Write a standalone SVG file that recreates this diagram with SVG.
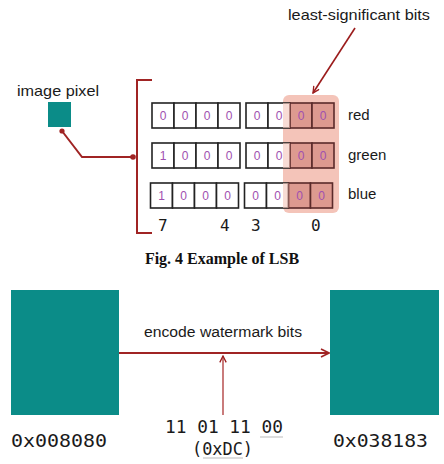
<svg xmlns="http://www.w3.org/2000/svg" width="444" height="464" viewBox="0 0 444 464">
<defs>
<style>
.lbl{font-family:"Liberation Sans","Noto Sans",Arial,sans-serif;fill:#1a1a1a}
.mono{font-family:"DejaVu Sans Mono","Liberation Mono",monospace;fill:#1a1a1a}
.cell{stroke:#222;stroke-width:1.6;fill:#fff}
.hl{stroke:#5a2a2a;stroke-width:1.6;fill:#dd9a90}
.bit{font-family:"Liberation Sans","Noto Sans",Arial,sans-serif;font-size:12px;fill:#a050b0;text-anchor:middle}
.teal{fill:#0b8c88}
.wire{stroke:#a02424;fill:none}
</style>
<marker id="ah" viewBox="0 0 10 10" refX="9" refY="5" markerWidth="8" markerHeight="8" markerUnits="userSpaceOnUse" orient="auto">
<path d="M1,1 L9,5 L1,9" fill="none" stroke="#9b1c1c" stroke-width="1.6"/>
</marker>
<marker id="ah2" viewBox="0 0 10 10" refX="9" refY="5" markerWidth="10" markerHeight="10" markerUnits="userSpaceOnUse" orient="auto">
<path d="M1,1 L9,5 L1,9" fill="none" stroke="#a02424" stroke-width="1.6"/>
</marker>
<g id="row">
<rect class="cell" x="0" y="0" width="22" height="25"/>
<rect class="cell" x="22" y="0" width="22" height="25"/>
<rect class="cell" x="44" y="0" width="22" height="25"/>
<rect class="cell" x="66" y="0" width="22" height="25"/>
<rect class="cell" x="94" y="0" width="22" height="25"/>
<rect class="cell" x="116" y="0" width="22" height="25"/>
<rect class="hl" x="138" y="0" width="22" height="25"/>
<rect class="hl" x="160" y="0" width="22" height="25"/>
</g>
</defs>
<rect width="444" height="464" fill="#fff"/>

<g id="highlight">
<rect x="283" y="95" width="56" height="118" rx="6" fill="#f4c4b9"/>
</g>

<g id="registers">
<use href="#row" x="152" y="103"/>
<use href="#row" x="152" y="143"/>
<use href="#row" x="150.5" y="183"/>
<rect x="283" y="103" width="7" height="25" fill="#f4c4b9" opacity="0.6"/>
<rect x="283" y="143" width="7" height="25" fill="#f4c4b9" opacity="0.6"/>
<rect x="283" y="183" width="5.5" height="25" fill="#f4c4b9" opacity="0.6"/>
<g>
<text class="bit" x="163" y="120">0</text><text class="bit" x="185" y="120">0</text><text class="bit" x="207" y="120">0</text><text class="bit" x="229" y="120">0</text>
<text class="bit" x="257" y="120">0</text><text class="bit" x="279" y="120">0</text><text class="bit" x="301" y="120">0</text><text class="bit" x="323" y="120">0</text>
<text class="bit" x="163" y="160">1</text><text class="bit" x="185" y="160">0</text><text class="bit" x="207" y="160">0</text><text class="bit" x="229" y="160">0</text>
<text class="bit" x="257" y="160">0</text><text class="bit" x="279" y="160">0</text><text class="bit" x="301" y="160">0</text><text class="bit" x="323" y="160">0</text>
<text class="bit" x="161.5" y="200">1</text><text class="bit" x="183.5" y="200">0</text><text class="bit" x="205.5" y="200">0</text><text class="bit" x="227.5" y="200">0</text>
<text class="bit" x="255.5" y="200">0</text><text class="bit" x="277.5" y="200">0</text><text class="bit" x="299.5" y="200">0</text><text class="bit" x="321.5" y="200">0</text>
</g>
</g>

<g id="channel-labels">
<text class="lbl" x="348" y="120" font-size="15">red</text>
<text class="lbl" x="348" y="160" font-size="15">green</text>
<text class="lbl" x="348" y="199" font-size="15">blue</text>
</g>

<g id="bit-index">
<text class="mono" x="158" y="231" font-size="16">7</text>
<text class="mono" x="220" y="231" font-size="16">4</text>
<text class="mono" x="251" y="231" font-size="16">3</text>
<text class="mono" x="311" y="231" font-size="16">0</text>
</g>

<g id="lsb-label">
<text class="lbl" x="288" y="20" font-size="15" textLength="142" lengthAdjust="spacingAndGlyphs">least-significant bits</text>
</g>

<g id="pixel">
<text class="lbl" x="17" y="96" font-size="15" textLength="82" lengthAdjust="spacingAndGlyphs">image pixel</text>
<rect class="teal" x="48" y="102" width="23" height="25"/>
</g>

<g id="bracket">
<path class="wire" stroke-width="2" d="M152,80 H137 V233 H152"/>
</g>

<g id="connectors">
<path d="M355,28 L313,93" stroke="#9b1c1c" stroke-width="1.6" fill="none" marker-end="url(#ah)"/>
<path class="wire" stroke-width="2" d="M62,131 L82,157 H133"/>
<circle cx="62" cy="131" r="2.6" fill="#a02424"/>
<circle cx="133" cy="157" r="2.8" fill="#a02424"/>
<path d="M119,353 H329" stroke="#a02424" stroke-width="2" fill="none" marker-end="url(#ah2)"/>
<path d="M223,415 V356" stroke="#b24444" stroke-width="1.4" fill="none" marker-end="url(#ah)"/>
</g>

<g id="caption">
<text x="222" y="264" font-family="'Liberation Serif','Times New Roman',serif" font-weight="bold" font-size="16" text-anchor="middle" fill="#111">Fig. 4 Example of LSB</text>
</g>

<g id="source-pixel">
<rect class="teal" x="11" y="290" width="108" height="125"/>
<text class="mono" x="11" y="447" font-size="18" textLength="96" lengthAdjust="spacingAndGlyphs">0x008080</text>
</g>

<g id="target-pixel">
<rect class="teal" x="330" y="290" width="109" height="125"/>
<text class="mono" x="333" y="447" font-size="18" textLength="95" lengthAdjust="spacingAndGlyphs">0x038183</text>
</g>

<g id="encode-label">
<text class="lbl" x="144" y="337" font-size="14" textLength="158" lengthAdjust="spacingAndGlyphs">encode watermark bits</text>
</g>

<g id="watermark-bits">
<text class="mono" x="165" y="433" font-size="17" textLength="118" lengthAdjust="spacingAndGlyphs" xml:space="preserve">11 01 11 00</text>
<text class="mono" x="192" y="455" font-size="17" textLength="61" lengthAdjust="spacingAndGlyphs">(0xDC)</text>
<path d="M260,437 H283 M203,458 H243" stroke="#bbb" stroke-width="1.2"/>
</g>
</svg>
